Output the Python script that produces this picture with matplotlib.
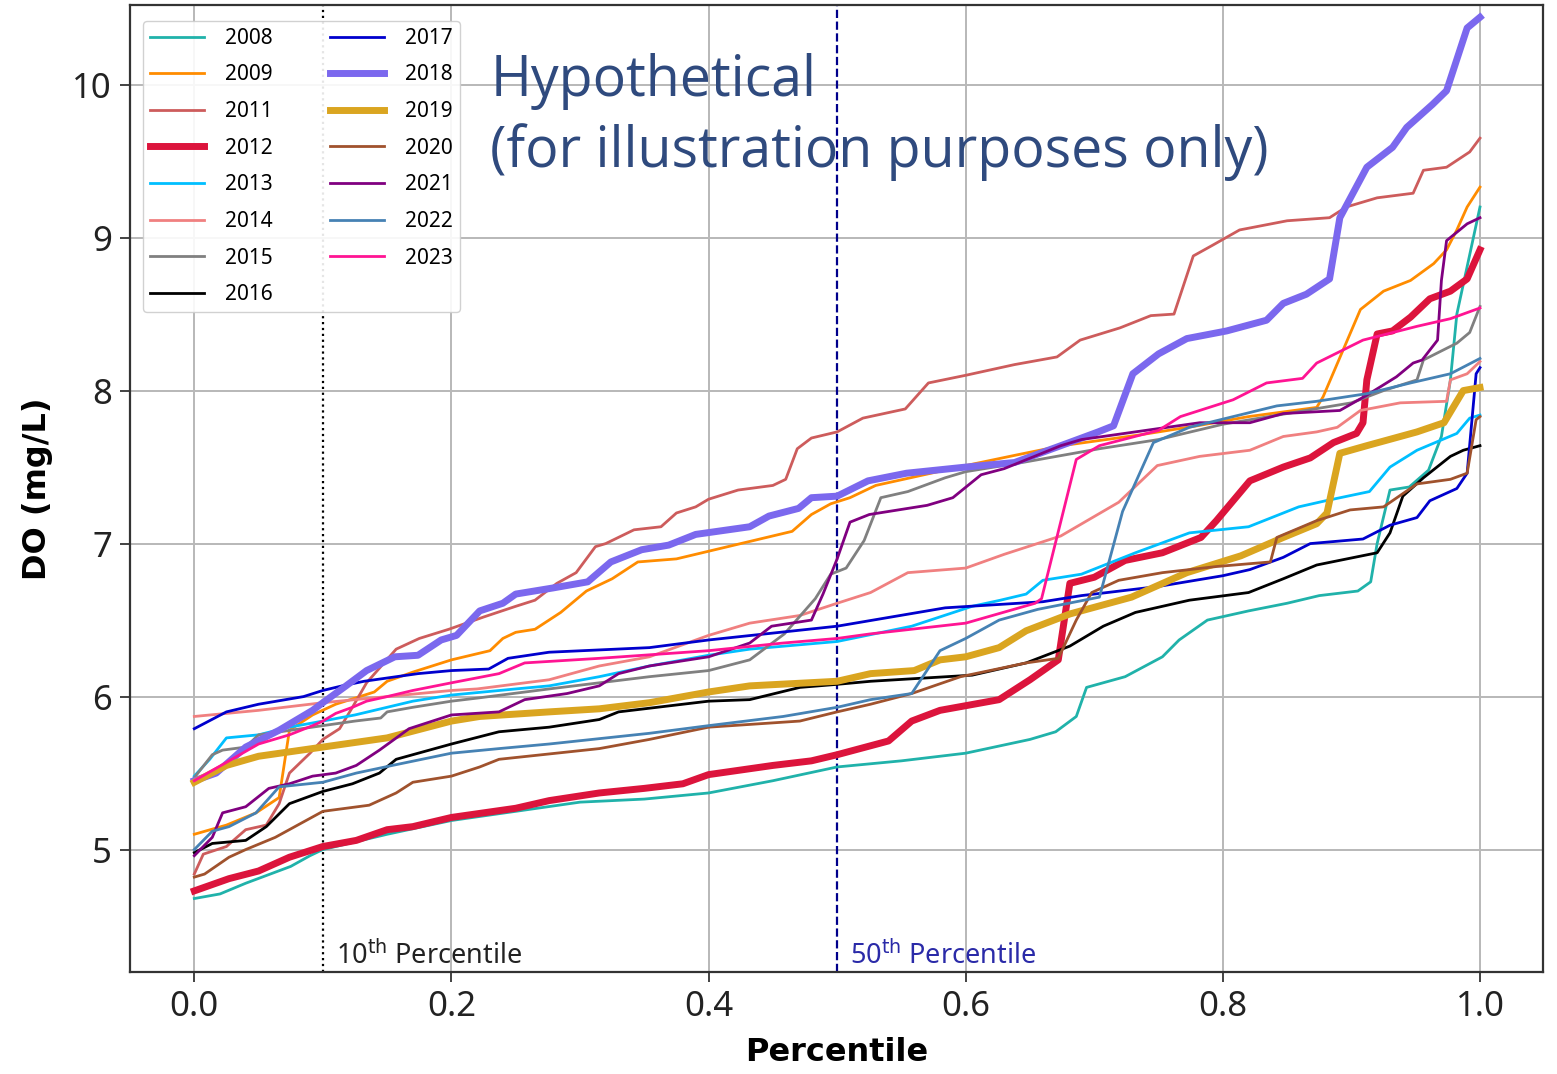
import matplotlib
matplotlib.use("Agg")
import matplotlib.pyplot as plt

plt.rcParams["font.family"] = ["Noto Sans", "DejaVu Sans"]

# ---------------- data (percentile, DO mg/L) ----------------
years = ["2008", "2009", "2011", "2012", "2013", "2014", "2015", "2016",
         "2017", "2018", "2019", "2020", "2021", "2022", "2023"]

p2008 = [0, 0.02, 0.04, 0.075, 0.09, 0.1, 0.15, 0.2, 0.25, 0.3, 0.35, 0.4, 0.45, 0.5, 0.55, 0.6, 0.65, 0.67,
         0.686, 0.694, 0.724, 0.753, 0.766, 0.788, 0.82, 0.85, 0.875, 0.905, 0.915, 0.92, 0.93, 0.945, 0.96,
         0.97, 0.977, 0.982, 0.99, 1.0]
v2008 = [4.68, 4.71, 4.78, 4.89, 4.96, 5.0, 5.10, 5.19, 5.25, 5.31, 5.33, 5.37, 5.45, 5.54, 5.58, 5.63, 5.72, 5.77,
         5.87, 6.06, 6.13, 6.26, 6.37, 6.50, 6.56, 6.61, 6.66, 6.69, 6.75, 7.0, 7.35, 7.37, 7.48,
         7.70, 8.07, 8.5, 8.81, 9.2]

p2009 = [0, 0.025, 0.048, 0.066, 0.074, 0.092, 0.11, 0.14, 0.15, 0.17, 0.2, 0.23, 0.24, 0.25, 0.265, 0.285, 0.305,
         0.325, 0.345, 0.375, 0.4, 0.435, 0.465, 0.48, 0.495, 0.51, 0.53, 0.6, 0.64, 0.675, 0.735, 0.78, 0.82,
         0.873, 0.878, 0.907, 0.925, 0.946, 0.964, 0.974, 0.982, 0.99, 1.0]
v2009 = [5.10, 5.16, 5.24, 5.34, 5.78, 5.88, 5.95, 6.03, 6.10, 6.16, 6.24, 6.30, 6.38, 6.42, 6.44, 6.55, 6.69,
         6.77, 6.88, 6.90, 6.95, 7.02, 7.08, 7.19, 7.26, 7.30, 7.38, 7.51, 7.58, 7.64, 7.71, 7.77, 7.83,
         7.89, 7.96, 8.53, 8.65, 8.72, 8.83, 8.92, 9.05, 9.2, 9.33]

p2011 = [0, 0.007, 0.025, 0.04, 0.056, 0.066, 0.074, 0.09, 0.1, 0.113, 0.123, 0.134, 0.157, 0.175, 0.198, 0.225,
         0.25, 0.265, 0.282, 0.297, 0.312, 0.32, 0.342, 0.363, 0.375, 0.39, 0.4, 0.423, 0.45, 0.46, 0.469, 0.48,
         0.5, 0.52, 0.553, 0.571, 0.6, 0.638, 0.671, 0.689, 0.72, 0.744, 0.762, 0.777, 0.792, 0.813, 0.85, 0.883,
         0.896, 0.92, 0.948, 0.956, 0.974, 0.992, 1.0]
v2011 = [4.84, 4.97, 5.02, 5.13, 5.16, 5.30, 5.50, 5.63, 5.72, 5.79, 5.93, 6.09, 6.31, 6.38, 6.44, 6.52,
         6.59, 6.63, 6.74, 6.81, 6.98, 7.0, 7.09, 7.11, 7.20, 7.24, 7.29, 7.35, 7.38, 7.42, 7.62, 7.69,
         7.73, 7.82, 7.88, 8.05, 8.10, 8.17, 8.22, 8.33, 8.41, 8.49, 8.50, 8.88, 8.95, 9.05, 9.11, 9.13,
         9.2, 9.26, 9.29, 9.44, 9.46, 9.56, 9.65]

p2012 = [0, 0.027, 0.05, 0.074, 0.1, 0.126, 0.15, 0.17, 0.2, 0.25, 0.276, 0.315, 0.35, 0.38, 0.4, 0.45, 0.48,
         0.5, 0.54, 0.558, 0.58, 0.626, 0.65, 0.672, 0.681, 0.7, 0.724, 0.753, 0.783, 0.795, 0.808, 0.821,
         0.847, 0.868, 0.886, 0.904, 0.909, 0.912, 0.92, 0.932, 0.946, 0.961, 0.977, 0.99, 1.0]
v2012 = [4.73, 4.81, 4.86, 4.95, 5.02, 5.06, 5.13, 5.15, 5.21, 5.27, 5.32, 5.37, 5.40, 5.43, 5.49, 5.55, 5.58,
         5.62, 5.71, 5.84, 5.91, 5.98, 6.11, 6.24, 6.74, 6.78, 6.89, 6.94, 7.04, 7.15, 7.28, 7.41,
         7.50, 7.56, 7.66, 7.72, 7.79, 8.07, 8.37, 8.39, 8.48, 8.60, 8.65, 8.73, 8.92]

p2013 = [0, 0.012, 0.025, 0.05, 0.074, 0.1, 0.125, 0.15, 0.17, 0.2, 0.25, 0.276, 0.315, 0.354, 0.4, 0.432, 0.5,
         0.558, 0.605, 0.627, 0.647, 0.66, 0.69, 0.732, 0.774, 0.82, 0.859, 0.88, 0.914, 0.93, 0.951, 0.982,
         0.992, 1.0]
v2013 = [5.48, 5.59, 5.73, 5.75, 5.80, 5.84, 5.88, 5.93, 5.97, 6.01, 6.05, 6.07, 6.13, 6.20, 6.27, 6.31, 6.36,
         6.46, 6.59, 6.63, 6.67, 6.76, 6.80, 6.94, 7.07, 7.11, 7.24, 7.28, 7.34, 7.50, 7.61, 7.72,
         7.82, 7.84]

p2014 = [0, 0.05, 0.1, 0.15, 0.2, 0.22, 0.276, 0.315, 0.354, 0.4, 0.432, 0.471, 0.5, 0.526, 0.555, 0.6, 0.63,
         0.674, 0.719, 0.749, 0.782, 0.821, 0.847, 0.873, 0.889, 0.907, 0.938, 0.974, 0.977, 0.99, 1.0]
v2014 = [5.87, 5.91, 5.96, 6.0, 6.04, 6.05, 6.11, 6.20, 6.26, 6.40, 6.48, 6.53, 6.61, 6.68, 6.81, 6.84, 6.93,
         7.05, 7.27, 7.51, 7.57, 7.61, 7.70, 7.73, 7.76, 7.87, 7.92, 7.93, 8.07, 8.11, 8.19]

p2015 = [0, 0.014, 0.022, 0.04, 0.05, 0.1, 0.125, 0.145, 0.15, 0.17, 0.2, 0.22, 0.276, 0.354, 0.4, 0.432,
         0.459, 0.483, 0.495, 0.507, 0.521, 0.534, 0.555, 0.584, 0.6, 0.644, 0.704, 0.75, 0.8, 0.85, 0.9,
         0.925, 0.951, 0.956, 0.982, 0.992, 1.0]
v2015 = [5.47, 5.62, 5.65, 5.67, 5.75, 5.81, 5.84, 5.86, 5.90, 5.93, 5.97, 5.99, 6.05, 6.13, 6.17, 6.24,
         6.41, 6.64, 6.80, 6.84, 7.02, 7.30, 7.34, 7.43, 7.47, 7.53, 7.62, 7.68, 7.78, 7.85, 7.92,
         8.0, 8.07, 8.2, 8.31, 8.38, 8.55]

p2016 = [0, 0.014, 0.04, 0.056, 0.074, 0.1, 0.123, 0.144, 0.157, 0.2, 0.237, 0.276, 0.315, 0.33, 0.4, 0.432,
         0.471, 0.5, 0.526, 0.605, 0.647, 0.681, 0.707, 0.732, 0.774, 0.82, 0.847, 0.873, 0.92, 0.93, 0.94,
         0.956, 0.977, 0.987, 1.0]
v2016 = [4.98, 5.04, 5.06, 5.15, 5.30, 5.38, 5.43, 5.50, 5.59, 5.69, 5.77, 5.80, 5.85, 5.90, 5.97, 5.98,
         6.06, 6.08, 6.10, 6.14, 6.22, 6.33, 6.46, 6.55, 6.63, 6.68, 6.77, 6.86, 6.94, 7.07, 7.31,
         7.43, 7.57, 7.61, 7.64]

p2017 = [0, 0.025, 0.05, 0.085, 0.1, 0.115, 0.132, 0.174, 0.2, 0.229, 0.244, 0.276, 0.354, 0.4, 0.5, 0.549,
         0.584, 0.66, 0.69, 0.75, 0.8, 0.821, 0.847, 0.868, 0.909, 0.93, 0.951, 0.961, 0.982, 0.99, 0.997, 1.0]
v2017 = [5.79, 5.90, 5.95, 6.0, 6.04, 6.07, 6.10, 6.15, 6.17, 6.18, 6.25, 6.29, 6.32, 6.37, 6.46, 6.53,
         6.58, 6.62, 6.66, 6.72, 6.79, 6.83, 6.91, 7.0, 7.03, 7.12, 7.17, 7.28, 7.36, 7.46, 8.11, 8.15]

p2018 = [0, 0.017, 0.04, 0.066, 0.092, 0.1, 0.118, 0.134, 0.156, 0.174, 0.192, 0.204, 0.222, 0.24, 0.25, 0.279,
         0.306, 0.324, 0.348, 0.369, 0.39, 0.432, 0.447, 0.47, 0.48, 0.5, 0.524, 0.554, 0.6, 0.638, 0.674,
         0.703, 0.715, 0.73, 0.75, 0.772, 0.803, 0.834, 0.847, 0.865, 0.883, 0.891, 0.912, 0.932, 0.943,
         0.963, 0.974, 0.99, 1.0]
v2018 = [5.45, 5.50, 5.67, 5.78, 5.91, 5.96, 6.07, 6.17, 6.26, 6.27, 6.37, 6.40, 6.56, 6.61, 6.67, 6.71,
         6.75, 6.88, 6.96, 6.99, 7.06, 7.11, 7.18, 7.23, 7.30, 7.31, 7.41, 7.46, 7.50, 7.53, 7.64,
         7.73, 7.77, 8.11, 8.24, 8.34, 8.39, 8.46, 8.57, 8.63, 8.73, 9.13, 9.46, 9.59, 9.72,
         9.87, 9.96, 10.37, 10.44]

p2019 = [0, 0.025, 0.05, 0.1, 0.15, 0.2, 0.222, 0.276, 0.315, 0.354, 0.4, 0.432, 0.5, 0.526, 0.56, 0.58, 0.6,
         0.626, 0.647, 0.681, 0.729, 0.772, 0.814, 0.847, 0.873, 0.881, 0.891, 0.912, 0.938, 0.951, 0.972,
         0.987, 1.0]
v2019 = [5.44, 5.55, 5.61, 5.67, 5.73, 5.84, 5.87, 5.90, 5.92, 5.96, 6.03, 6.07, 6.10, 6.15, 6.17, 6.24, 6.26,
         6.32, 6.43, 6.54, 6.65, 6.81, 6.92, 7.04, 7.13, 7.20, 7.59, 7.64, 7.70, 7.73, 7.79,
         8.0, 8.02]

p2020 = [0, 0.008, 0.027, 0.04, 0.063, 0.1, 0.136, 0.157, 0.17, 0.2, 0.222, 0.237, 0.315, 0.354, 0.4, 0.471,
         0.5, 0.526, 0.558, 0.596, 0.647, 0.672, 0.686, 0.698, 0.719, 0.753, 0.795, 0.837, 0.842, 0.873, 0.899,
         0.925, 0.951, 0.977, 0.99, 0.997, 1.0]
v2020 = [4.82, 4.84, 4.95, 5.0, 5.08, 5.25, 5.29, 5.37, 5.44, 5.48, 5.54, 5.59, 5.66, 5.72, 5.80, 5.84,
         5.90, 5.95, 6.02, 6.13, 6.22, 6.25, 6.50, 6.68, 6.76, 6.81, 6.85, 6.88, 7.04, 7.15, 7.22,
         7.24, 7.39, 7.42, 7.46, 7.81, 7.83]

p2021 = [0, 0.014, 0.022, 0.04, 0.058, 0.074, 0.092, 0.11, 0.126, 0.144, 0.167, 0.2, 0.237, 0.257, 0.29, 0.315,
         0.33, 0.354, 0.4, 0.432, 0.449, 0.48, 0.489, 0.5, 0.51, 0.525, 0.57, 0.59, 0.612, 0.63, 0.674, 0.69,
         0.782, 0.821, 0.847, 0.891, 0.912, 0.935, 0.948, 0.955, 0.967, 0.97, 0.974, 0.99, 1.0]
v2021 = [4.96, 5.08, 5.24, 5.28, 5.40, 5.43, 5.48, 5.50, 5.55, 5.65, 5.79, 5.88, 5.90, 5.98, 6.02, 6.07,
         6.15, 6.20, 6.26, 6.35, 6.46, 6.50, 6.67, 6.90, 7.14, 7.19, 7.25, 7.30, 7.45, 7.49, 7.64, 7.68,
         7.79, 7.79, 7.85, 7.87, 7.97, 8.09, 8.18, 8.20, 8.33, 8.72, 8.98, 9.09, 9.13]

p2022 = [0, 0.014, 0.027, 0.048, 0.066, 0.1, 0.126, 0.154, 0.2, 0.237, 0.276, 0.354, 0.4, 0.458, 0.5, 0.526,
         0.558, 0.58, 0.6, 0.626, 0.656, 0.704, 0.722, 0.746, 0.774, 0.842, 0.873, 0.912, 0.946, 0.977, 1.0]
v2022 = [5.0, 5.12, 5.15, 5.24, 5.41, 5.44, 5.50, 5.55, 5.63, 5.66, 5.69, 5.76, 5.81, 5.87, 5.93, 5.98,
         6.02, 6.30, 6.38, 6.50, 6.57, 6.65, 7.21, 7.66, 7.76, 7.90, 7.93, 7.98, 8.05, 8.11, 8.21]

p2023 = [0, 0.025, 0.05, 0.074, 0.092, 0.1, 0.11, 0.123, 0.134, 0.15, 0.17, 0.2, 0.237, 0.257, 0.315, 0.4,
         0.458, 0.5, 0.526, 0.6, 0.654, 0.659, 0.686, 0.704, 0.75, 0.767, 0.808, 0.834, 0.862, 0.873, 0.909,
         0.951, 0.977, 1.0]
v2023 = [5.45, 5.57, 5.69, 5.75, 5.81, 5.84, 5.89, 5.93, 5.97, 6.0, 6.04, 6.09, 6.15, 6.22, 6.25, 6.30,
         6.35, 6.38, 6.41, 6.48, 6.61, 6.64, 7.55, 7.64, 7.74, 7.83, 7.94, 8.05, 8.08, 8.18, 8.33,
         8.42, 8.47, 8.54]

series_p = [p2008, p2009, p2011, p2012, p2013, p2014, p2015, p2016,
            p2017, p2018, p2019, p2020, p2021, p2022, p2023]
series_v = [v2008, v2009, v2011, v2012, v2013, v2014, v2015, v2016,
            v2017, v2018, v2019, v2020, v2021, v2022, v2023]

colors = ["lightseagreen", "darkorange", "indianred", "crimson", "deepskyblue", "lightcoral",
          "gray", "black", "mediumblue", "mediumslateblue", "goldenrod", "sienna",
          "purple", "steelblue", "deeppink"]
thick_years = ["2012", "2018", "2019"]

xticks = [0.0, 0.2, 0.4, 0.6, 0.8, 1.0]
yticks = [5, 6, 7, 8, 9, 10]

# ---------------- figure ----------------
fig = plt.figure(figsize=(15.57, 10.74), dpi=100)
ax = fig.add_axes([0.0835, 0.095, 0.9075, 0.9003])

for yr, px, vy, c in zip(years, series_p, series_v, colors):
    lw = 5.0 if yr in thick_years else 2.0
    ax.plot(px, vy, color=c, lw=lw, label=yr, zorder=3)

ax.axvline(0.1, color="black", ls=":", lw=1.6, zorder=2)
ax.axvline(0.5, color="darkblue", ls="--", lw=1.6, zorder=2)
ax.text(0.11, 4.25, "10$^{\\rm th}$ Percentile", fontsize=19.5, color="#222222", va="baseline")
ax.text(0.51, 4.25, "50$^{\\rm th}$ Percentile", fontsize=19.5, color="#2a2aa8", va="baseline")

ax.set_xlim(-0.05, 1.049)
ax.set_ylim(4.2, 10.52)
ax.set_xticks(xticks)
ax.set_xticklabels([f"{t:.1f}" for t in xticks])
ax.set_yticks(yticks)
ax.tick_params(labelsize=25, length=7, width=1.2, pad=6, colors="#222222")
ax.grid(True, color="#b8b8b8", lw=1.4, zorder=0)
ax.set_axisbelow(True)
for s in ax.spines.values():
    s.set_linewidth(1.6)
    s.set_color("#333333")

ax.set_xlabel("Percentile", fontsize=23, fontweight="bold", family="DejaVu Sans", labelpad=9)
ax.set_ylabel("DO (mg/L)", fontsize=23, fontweight="bold", family="DejaVu Sans", labelpad=14)

leg = ax.legend(loc="upper left", ncol=2, fontsize=15, handlelength=2.6, handletextpad=1.0,
                columnspacing=2.75, labelspacing=0.75, borderpad=0.35, borderaxespad=0,
                framealpha=0.9, bbox_to_anchor=(0.009, 0.984))

ax.text(0.255, 0.95, "Hypothetical\n(for illustration purposes only)", transform=ax.transAxes,
        fontsize=40, color="#2f4a7e", family="Open Sans", va="top", ha="left", linespacing=1.3,
        zorder=5)

fig.savefig("out.png", dpi=100)
